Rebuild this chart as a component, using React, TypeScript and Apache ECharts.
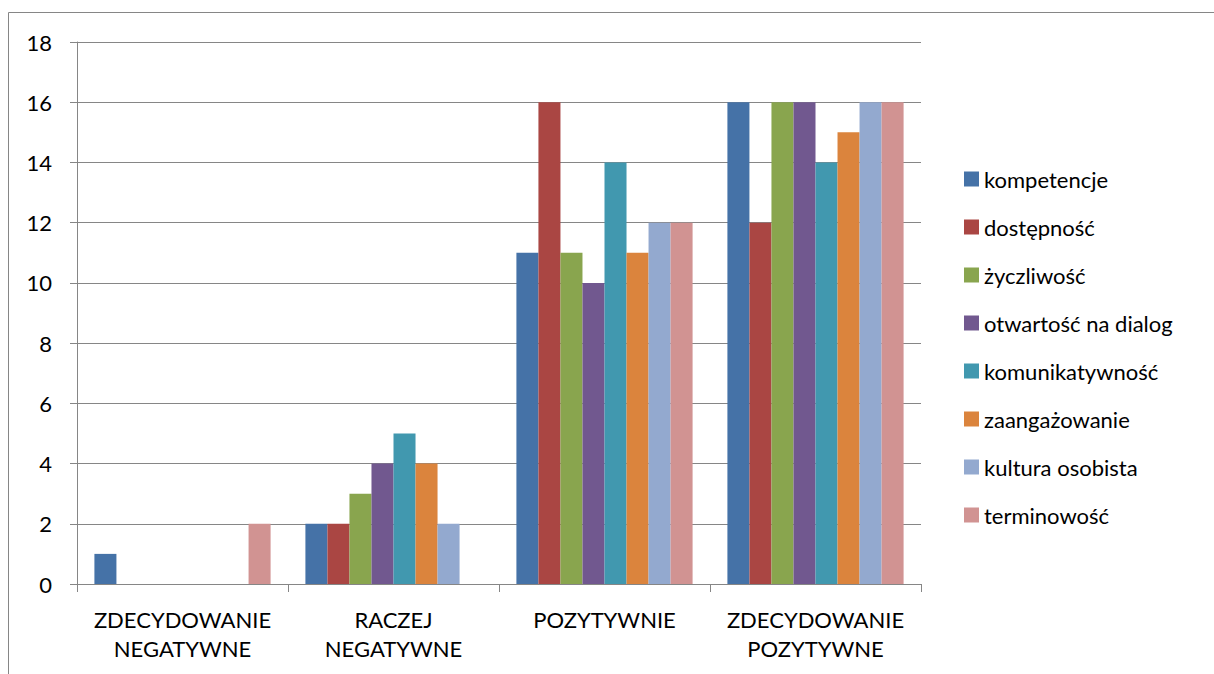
import React, { useEffect, useRef } from "react";
import * as echarts from "echarts";

const categories = [
  "ZDECYDOWANIE\nNEGATYWNE",
  "RACZEJ\nNEGATYWNE",
  "POZYTYWNIE",
  "ZDECYDOWANIE\nPOZYTYWNE",
];

const seriesNames = [
  "kompetencje",
  "dostępność",
  "życzliwość",
  "otwartość na dialog",
  "komunikatywność",
  "zaangażowanie",
  "kultura osobista",
  "terminowość",
];

const kompetencje = [1, 2, 11, 16];
const dostepnosc = [0, 2, 16, 12];
const zyczliwosc = [0, 3, 11, 16];
const otwartosc = [0, 4, 10, 16];
const komunikatywnosc = [0, 5, 14, 14];
const zaangazowanie = [0, 4, 11, 15];
const kultura = [0, 2, 12, 16];
const terminowosc = [2, 0, 12, 16];

const seriesValues = [
  kompetencje,
  dostepnosc,
  zyczliwosc,
  otwartosc,
  komunikatywnosc,
  zaangazowanie,
  kultura,
  terminowosc,
];

const colors = [
  "#4572A7",
  "#AA4643",
  "#89A54E",
  "#71588F",
  "#4198AF",
  "#DB843D",
  "#93A9CF",
  "#D19392",
];

const FONT = "Lato, 'Open Sans', sans-serif";
const GRAY = "#868686";

export default function App() {
  const ref = useRef<HTMLDivElement>(null);

  useEffect(() => {
    if (!ref.current) return;
    const chart = echarts.init(ref.current, undefined, { renderer: "svg" });
    chart.setOption({
      animation: false,
      color: colors,
      textStyle: { fontFamily: FONT },
      graphic: [
        {
          type: "rect",
          shape: { x: 8.5, y: 12.5, width: 1400, height: 900 },
          style: { fill: "none", stroke: GRAY, lineWidth: 1 },
          silent: true,
          z: -10,
        },
      ],
      grid: { left: 77, top: 42, right: 293, bottom: 90, containLabel: false },
      legend: {
        orient: "vertical",
        left: 964,
        top: 168,
        padding: 0,
        itemWidth: 15,
        itemHeight: 15,
        itemGap: 26,
        icon: "rect",
        data: seriesNames,
        textStyle: {
          fontFamily: FONT,
          fontSize: 22,
          lineHeight: 22,
          color: "#000",
        },
      },
      xAxis: {
        type: "category",
        data: categories,
        boundaryGap: true,
        axisLine: { show: true, lineStyle: { color: GRAY, width: 1 } },
        axisTick: {
          show: true,
          alignWithLabel: false,
          length: 8,
          lineStyle: { color: GRAY },
        },
        axisLabel: {
          fontFamily: FONT,
          fontSize: 22,
          lineHeight: 29,
          color: "#000",
          margin: 21,
          interval: 0,
        },
      },
      yAxis: {
        type: "value",
        min: 0,
        max: 18,
        interval: 2,
        axisLine: { show: true, lineStyle: { color: GRAY, width: 1 } },
        axisTick: { show: true, length: 7, lineStyle: { color: GRAY } },
        splitLine: { show: true, lineStyle: { color: GRAY, width: 1 } },
        axisLabel: {
          fontFamily: FONT,
          fontSize: 22,
          color: "#000",
          margin: 25,
        },
      },
      series: seriesNames.map((name, i) => ({
        name,
        type: "bar",
        data: seriesValues[i],
        barGap: "0%",
        barCategoryGap: "16.5%",
        itemStyle: { color: colors[i] },
      })),
    });
    return () => chart.dispose();
  }, []);

  return (
    <div
      ref={ref}
      style={{
        position: "fixed",
        left: 0,
        top: 0,
        width: 1214,
        height: 674,
        background: "#fff",
      }}
    />
  );
}
